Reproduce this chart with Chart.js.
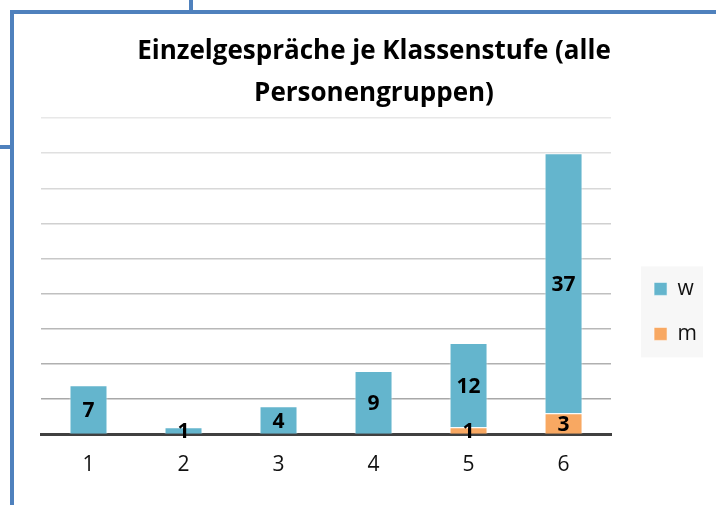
<!DOCTYPE html>
<html lang="de">
<head>
    <meta charset="UTF-8">
    <title>Einzelgespräche je Klassenstufe</title>
    <script src="https://cdn.jsdelivr.net/npm/chart.js@4.4.0/dist/chart.umd.min.js"></script>
    <style>
        body{
            margin: 0;
            background-color: #ffffff;
        }
        #box{
            position: relative;
            width: 716px;
            height: 505px;
        }
        .rahmen{
            position: absolute;
            background-color: #4f81bd;
        }
    </style>
</head>
<body>
    <div id="box">
        <canvas id="gespraecheChart"></canvas>
        <div class="rahmen" style="left:10px; top:10px; width:4px; height:495px;"></div>
        <div class="rahmen" style="left:10px; top:10px; width:706px; height:4px;"></div>
        <div class="rahmen" style="left:189px; top:0px; width:4px; height:10px;"></div>
        <div class="rahmen" style="left:0px; top:145px; width:10px; height:4px;"></div>
    </div>
    <script>
        // Daten aus dem Diagramm
        var klassenstufen = ['1', '2', '3', '4', '5', '6'];
        var weiblich = [7, 1, 4, 9, 12, 37];
        var maennlich = [0, 0, 0, 0, 1, 3];
        var titelZeilen = ['Einzelgespräche je Klassenstufe (alle', 'Personengruppen)'];

        // Zahlen in die Balken schreiben
        var wertePlugin = {
            id: 'werte',
            afterDatasetsDraw: function(chart) {
                var ctx = chart.ctx;
                ctx.save();
                ctx.font = 'bold 21px "Open Sans"';
                ctx.fillStyle = '#000000';
                ctx.textAlign = 'center';
                ctx.textBaseline = 'middle';
                chart.data.datasets.forEach(function(ds, i) {
                    var meta = chart.getDatasetMeta(i);
                    meta.data.forEach(function(bar, j) {
                        var wert = ds.data[j];
                        if (!wert) return;
                        ctx.fillText(String(wert), bar.x, (bar.y + bar.base) / 2 + 2);
                    });
                });
                ctx.restore();
            }
        };

        // grauer Kasten hinter der Legende
        var legendeKasten = {
            id: 'legendeKasten',
            beforeDraw: function(chart) {
                var lg = chart.legend;
                if (!lg || !lg.legendHitBoxes || !lg.legendHitBoxes.length) return;
                var hb = lg.legendHitBoxes;
                var ctx = chart.ctx;
                var links = hb[0].left - 13;
                var oben = hb[0].top - 12;
                var unten = hb[hb.length - 1].top + hb[hb.length - 1].height + 13;
                ctx.save();
                ctx.fillStyle = '#f7f7f7';
                ctx.fillRect(links, oben, 62, unten - oben);
                ctx.restore();
            }
        };

        function gitterFarbe(c) {
            var v = c.tick ? c.tick.value : 0;
            var g = Math.round(160 + (232 - 160) * v / 45);
            return 'rgb(' + g + ',' + g + ',' + g + ')';
        }

        var ctx = document.getElementById('gespraecheChart').getContext('2d');
        var myChart = new Chart(ctx, {
            type: 'bar',
            data: {
                labels: klassenstufen,
                datasets: [{
                    label: 'm',
                    data: maennlich,
                    backgroundColor: '#f8a862',
                    borderColor: 'rgba(255,255,255,0.55)',
                    borderWidth: 1,
                    barPercentage: 0.4,
                    categoryPercentage: 1
                }, {
                    label: 'w',
                    data: weiblich,
                    backgroundColor: '#64b5cd',
                    borderColor: 'rgba(255,255,255,0.55)',
                    borderWidth: 1,
                    barPercentage: 0.4,
                    categoryPercentage: 1
                }]
            },
            options: {
                responsive: true,
                maintainAspectRatio: false,
                animation: false,
                layout: {
                    padding: {left: 41, right: 9, top: 0, bottom: 9.4}
                },
                scales: {
                    x: {
                        stacked: true,
                        grid: {display: false, drawTicks: false},
                        border: {display: true, color: '#404040', width: 3},
                        ticks: {
                            color: '#111111',
                            padding: 18,
                            font: {family: 'Open Sans', size: 21}
                        }
                    },
                    y: {
                        stacked: true,
                        position: 'right',
                        min: 0,
                        max: 45,
                        ticks: {display: false, stepSize: 5},
                        grid: {color: gitterFarbe, lineWidth: 1.5, drawTicks: false},
                        border: {display: false},
                        afterFit: function(scale) {
                            scale.width = 19;
                        }
                    }
                },
                plugins: {
                    title: {
                        display: true,
                        text: titelZeilen,
                        color: '#000000',
                        font: {family: 'Open Sans', size: 26, weight: 'bold', lineHeight: 1.615},
                        padding: {top: 31, bottom: 3}
                    },
                    legend: {
                        position: 'right',
                        fullSize: false,
                        reverse: true,
                        title: {
                            display: true,
                            text: '',
                            font: {size: 12},
                            padding: {top: 56, bottom: 0}
                        },
                        labels: {
                            boxWidth: 13,
                            boxHeight: 13,
                            padding: 24,
                            color: '#111111',
                            font: {family: 'Open Sans', size: 21}
                        }
                    },
                    tooltip: {enabled: false}
                }
            },
            plugins: [wertePlugin, legendeKasten]
        });
    </script>
</body>
</html>
